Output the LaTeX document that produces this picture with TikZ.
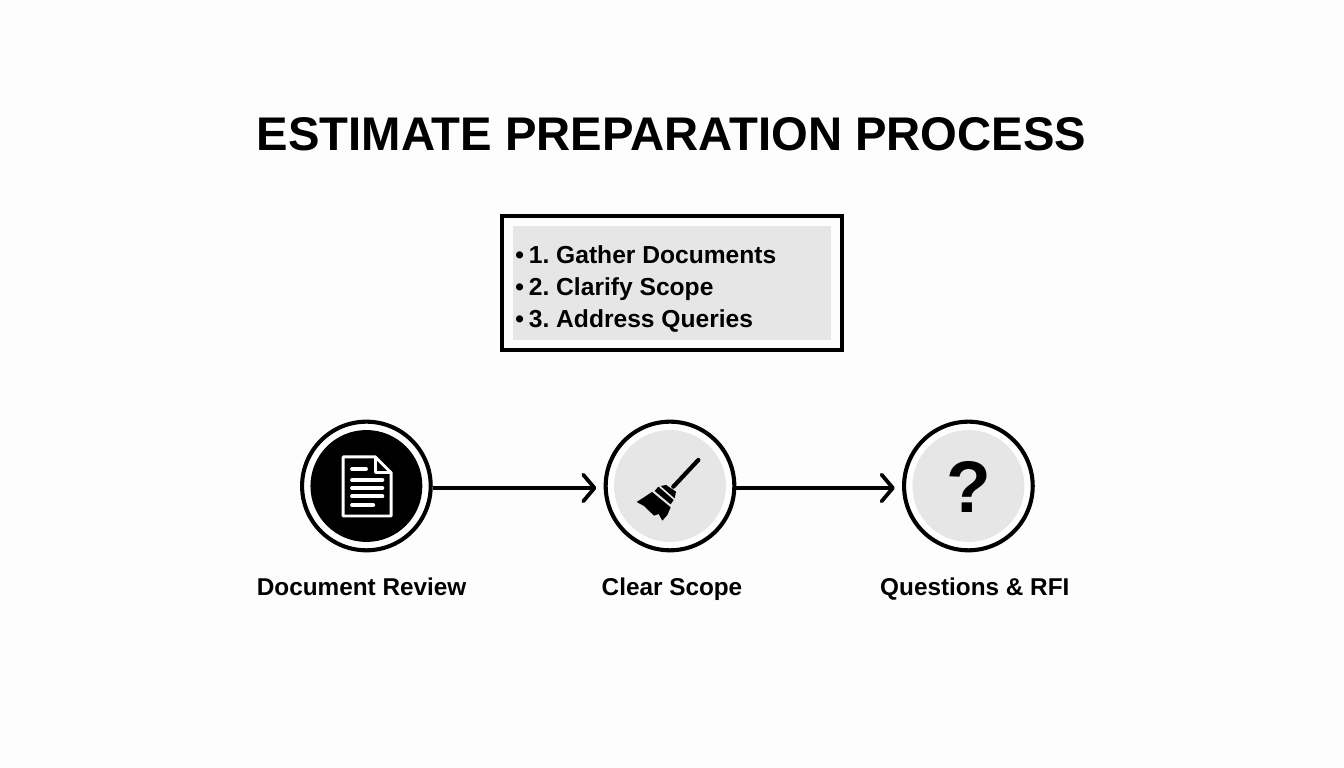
\documentclass[tikz,border=0pt]{standalone}
\usepackage{fontspec}
\setmainfont{Liberation Sans}
\usetikzlibrary{arrows.meta}
\definecolor{paleGray}{HTML}{E6E6E6}
\definecolor{pageWhite}{HTML}{FDFDFD}
\tikzset{
  ring/.style={shape=circle,draw,line width=2.9pt,fill=white,minimum size=91.5pt,inner sep=0pt},
  disc/.style={shape=circle,minimum size=79.6pt,inner sep=0pt},
  stepLabel/.style={anchor=base,font=\fontsize{17.3}{17.3}\selectfont\bfseries,text=black},
  lineDecorate/.style={line width=2.7pt,-{Straight Barb[length=8pt,width=19pt,line cap=round,round]},shorten >=5.2pt}
}
\begin{document}
\frenchspacing
\begin{tikzpicture}

\useasboundingbox[fill=pageWhite] (0,0) rectangle (33.6,19.2);

%% title and list box
\node (title) at (16.79,15.85) {\fontsize{33.6}{33.6}\selectfont\bfseries ESTIMATE PREPARATION PROCESS};

\node (box)[draw,line width=2.9pt,minimum width=242pt,minimum height=95pt,inner sep=0pt] at (16.8,12.125) {};
\node (list)[fill=paleGray,minimum width=226pt,minimum height=81pt,inner sep=0pt] at (16.8,12.125) {};
\node (items)[anchor=west,align=left,inner sep=0pt,font=\fontsize{17.5}{22.8}\selectfont\bfseries] at (12.88,11.97)
  {•\kern3.4pt 1. Gather Documents\\•\kern3.4pt 2. Clarify Scope\\•\kern3.4pt 3. Address Queries};

%% nodes or vertices
\node (docRing)[ring] at (9.16,7.05) {};
\node (scopeRing)[ring] at (16.75,7.05) {};
\node (rfiRing)[ring] at (24.21,7.05) {};

\node (docDisc)[disc,fill=black] at (docRing) {};
\node (scopeDisc)[disc,fill=paleGray] at (scopeRing) {};
\node (rfiDisc)[disc,fill=paleGray] at (rfiRing) {};
\node (rfiMark) at ([yshift=-.02cm]rfiRing) {\fontsize{52}{52}\selectfont\bfseries ?};

\node (docLabel)[stepLabel] at (9.04,4.3) {Document Review};
\node (scopeLabel)[stepLabel] at (16.8,4.3) {Clear Scope};
\node (rfiLabel)[stepLabel] at (24.37,4.3) {Questions \& RFI};

%% document icon
\draw[white,line width=2.1pt,line join=round] (8.58,7.78) -- (9.38,7.78) -- (9.78,7.38) -- (9.78,6.3) -- (8.58,6.3) -- cycle;
\draw[white,line width=2.1pt,line join=round] (9.38,7.78) -- (9.38,7.38) -- (9.78,7.38);
\draw[white,line width=2.7pt,line cap=round]
  (8.8,7.475) -- (9.15,7.475)
  (8.8,7.2) -- (9.56,7.2)
  (8.8,7.0) -- (9.56,7.0)
  (8.8,6.79) -- (9.56,6.79)
  (8.8,6.575) -- (9.33,6.575);

%% broom icon
\begin{scope}[shift={(15.75,7.95)},x=.00833cm,y=-.00833cm]
  \draw[black,line width=3pt,line cap=round] (205,30) -- (130,110);
  \fill[black] (66,126) -- (122,172) -- (112,195) -- (97,212) -- (86,192) -- (72,197) -- (42,168) -- (20,156) -- (45,140) -- cycle;
  \fill[black] (74,123) -- (122,163) -- (131,150) -- (85,110) -- cycle;
  \fill[black] (92,108) -- (134,145) -- (138,125) -- (108,105) -- cycle;
\end{scope}

%% edges or lines
\path
  ([yshift=-.05cm]docRing.east) edge[lineDecorate,draw] ([yshift=-.05cm]scopeRing.west)
  ([yshift=-.05cm]scopeRing.east) edge[lineDecorate,draw] ([yshift=-.05cm]rfiRing.west)
;
\end{tikzpicture}
\end{document}
